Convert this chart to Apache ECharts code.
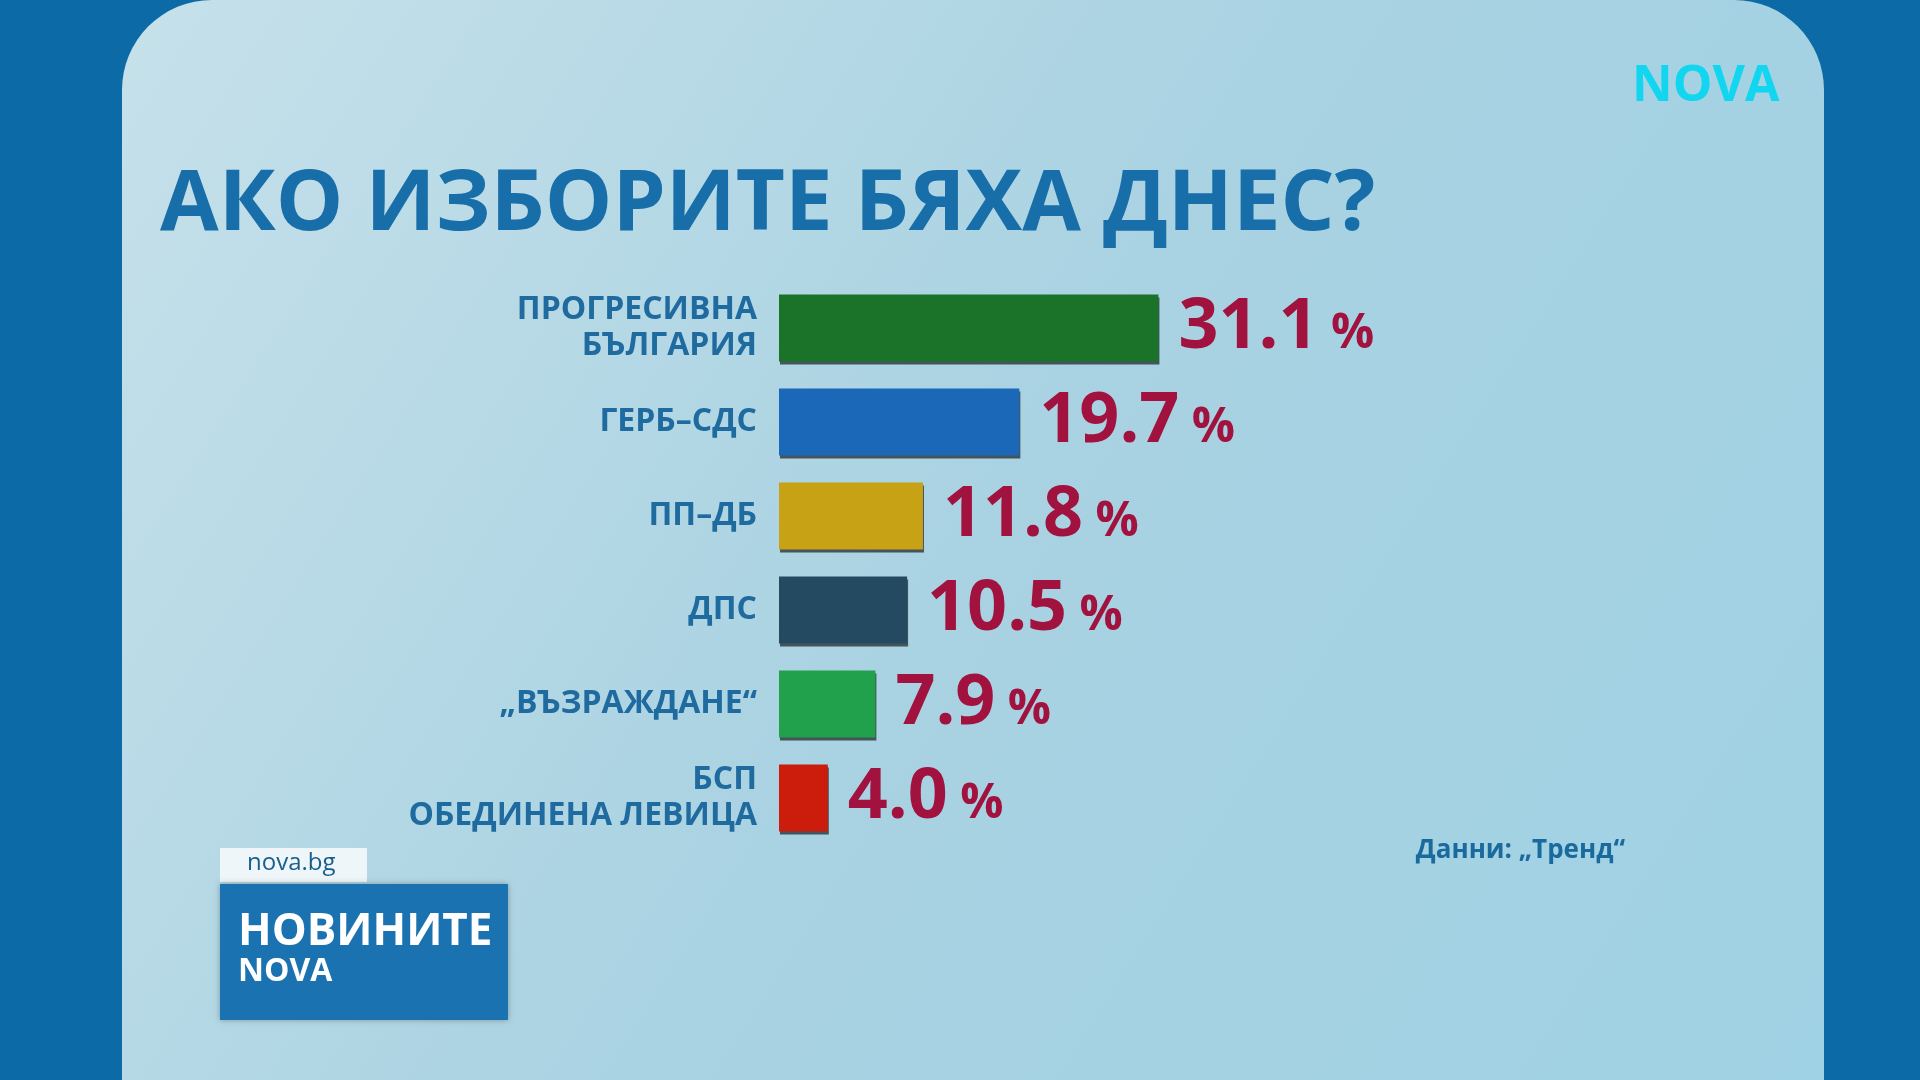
<!DOCTYPE html>
<html><head><meta charset="utf-8">
<script src="https://cdn.jsdelivr.net/npm/echarts@6/dist/echarts.min.js"></script>
<style>html,body{margin:0;padding:0;}#c{width:1920px;height:1080px;}</style>
</head><body><div id="c"></div>
<script>
const categories = ["ПРОГРЕСИВНА\nБЪЛГАРИЯ","ГЕРБ–СДС","ПП–ДБ","ДПС","„ВЪЗРАЖДАНЕ“","БСП\nОБЕДИНЕНА ЛЕВИЦА"];
const values = [31.1, 19.7, 11.8, 10.5, 7.9, 4.0];
const colors = ["#1b7229","#1c68b8","#c6a214","#244a62","#21a14b","#cc1c0c"];
const valueLabels = ["31.1","19.7","11.8","10.5","7.9","4.0"];

const chart = echarts.init(document.getElementById('c'));
chart.setOption({
  backgroundColor: '#0c6aa6',
  graphic: [
    {type:'rect', shape:{x:122,y:0,width:1702,height:1080,r:[90,90,0,0]}, z:-10,
     style:{fill:new echarts.graphic.LinearGradient(0,0,1,1,[{offset:0,color:'#c6e1ea'},{offset:0.5,color:'#a9d2e2'},{offset:1,color:'#9fd2e4'}])}},
    {type:'text', left:160, top:163, z:5, style:{text:'АКО ИЗБОРИТЕ БЯХА ДНЕС?', fill:'#186ea8', font:'bold 85px "Open Sans", sans-serif', letterSpacing:1}},
    {type:'text', left:1632, top:62, z:5, style:{text:'NOVA', fill:'#12d6f0', font:'bold 50px "Open Sans", sans-serif'}},
    {type:'rect', shape:{x:220,y:848,width:147,height:34}, style:{fill:'#eef6f9'}, z:5},
    {type:'text', left:247, top:851, z:6, style:{text:'nova.bg', fill:'#1a5f8c', font:'24px "Open Sans", sans-serif'}},
    {type:'rect', shape:{x:220,y:884,width:288,height:136}, style:{fill:'#1a72b0', shadowBlur:6, shadowColor:'rgba(0,0,0,0.3)'}, z:5},
    {type:'text', left:238, top:910, z:6, style:{text:'НОВИНИТЕ', fill:'#ffffff', font:'bold 44px "Open Sans", sans-serif'}},
    {type:'text', left:238, top:956, z:6, style:{text:'NOVA', fill:'#ffffff', font:'bold 32px "Open Sans", sans-serif'}},
    {type:'text', right:1920-1625, top:838, z:5, style:{text:'Данни: „Тренд“', fill:'#1a6a9e', font:'bold 26px "Open Sans", sans-serif'}}
  ],
  grid:{left:779, top:281, height:564, width:488},
  xAxis:{type:'value', min:0, max:40, show:false},
  yAxis:{type:'category', data:categories, inverse:true,
    axisLine:{show:false}, axisTick:{show:false},
    axisLabel:{margin:22, color:'#1f6a9e', fontWeight:'bold', fontSize:32, lineHeight:36, align:'right', fontFamily:'"Open Sans", sans-serif', letterSpacing:1}},
  series:[{type:'bar', barWidth:67,
    data: values.map((v,i)=>({value:v, itemStyle:{color:colors[i], shadowColor:'rgba(0,0,0,0.6)', shadowOffsetY:3, shadowOffsetX:1}})),
    label:{show:true, position:'right', distance:20,
      formatter:(p)=>'{v|'+valueLabels[p.dataIndex]+'}{p| %}',
      rich:{v:{color:'#a2123f', fontSize:70, fontWeight:'bold', fontFamily:'"Open Sans", sans-serif', letterSpacing:-3},
            p:{color:'#a2123f', fontSize:48, fontWeight:'bold', fontFamily:'"Open Sans", sans-serif', padding:[12,0,0,0]}}}
  }]
});
</script></body></html>
